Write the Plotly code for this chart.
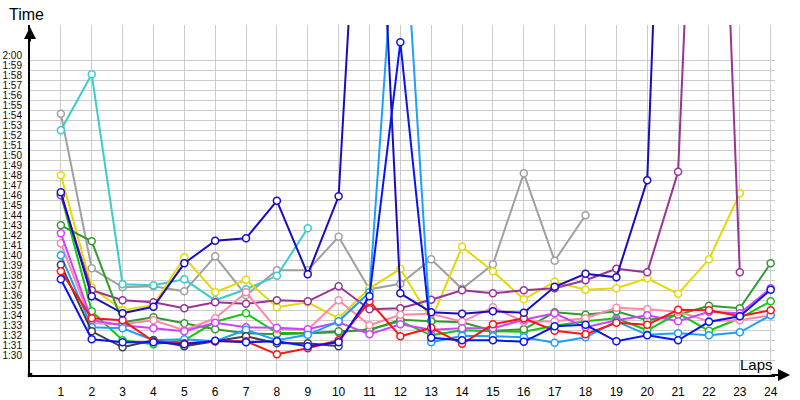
import plotly.graph_objects as go

laps = list(range(1, 25))
lap_labels = [str(n) for n in laps]
time_ticks = list(range(90, 121))
time_labels = ["1:%02d" % (s - 60) if s < 120 else "2:00" for s in time_ticks]

N = None
blue = [98.1, 92.1, 91.8, 91.8, 91.6, 91.95, 91.8, 91.9, 91.4, 91.8, 96.4, 121.8,
        92.25, 92.0, 92.0, 91.85, 93.4, 93.55, 91.9, 92.5, 92.0, 93.85, 94.4, 97.05]
navy = [106.8, 96.4, 94.7, 95.35, 99.7, 101.95, 102.2, 105.95, 98.6, 106.4, 160.0, 96.7,
        94.8, 94.65, 94.9, 94.75, 97.35, 98.65, 98.3, 108.0, 190.0, N, N, N]
light_blue = [100.5, 93.3, 93.2, 92.0, 92.1, 91.9, 93.05, 92.0, 92.55, 93.9, 96.8, 141.0,
              91.8, 92.45, 92.4, 92.3, 91.75, 92.3, 93.9, 92.55, 92.7, 92.5, 92.8, 94.5]
cyan = [113.0, 118.6, 97.6, 97.5, 98.1, 96.0, 97.1, 98.45, 103.2] + [N] * 15
gray = [114.66, 99.2, 97.3, 97.4, 96.9, 100.4, 96.5, 99.0, 99.0, 102.35, 97.1, 97.65,
        100.1, 97.15, 99.6, 108.7, 99.95, 104.5] + [N] * 6
yellow = [108.5, 97.3, 95.0, 95.5, 100.3, 96.8, 98.05, 95.3, 95.8, 94.2, 97.2, 99.15,
          94.05, 101.35, 98.9, 96.1, 97.85, 97.05, 97.2, 98.2, 96.65, 100.1, 106.7, N]
purple = [106.5, 97.0, 96.0, 95.8, 95.2, 95.8, 95.65, 96.0, 95.9, 97.4, 95.1, 95.2,
          96.05, 97.0, 96.7, 97.0, 97.2, 98.0, 99.15, 98.8, 108.85, 180.0, 98.8, N]
dark_green = [103.5, 101.9, 93.8, 94.3, 93.7, 93.1, 92.7, 92.6, 92.7, 92.9, 93.0, 94.05,
              93.9, 93.8, 92.95, 93.1, 94.8, 94.55, 94.9, 94.0, 94.55, 95.45, 95.2, 99.7]
green = [106.6, 94.9, 92.0, 91.6, 92.0, 93.85, 94.7, 92.75, 92.7, 92.8, 93.1, 93.9,
         92.5, 93.0, 92.9, 92.85, 93.45, 93.9, 94.2, 93.0, 94.7, 92.95, 94.2, 95.9]
magenta = [102.7, 94.0, 93.5, 93.2, 92.9, 93.75, 93.3, 93.25, 93.1, 93.8, 92.6, 93.6,
           93.05, 93.2, 93.2, 94.05, 94.7, 93.3, 94.0, 94.5, 93.9, 94.85, 94.7, 97.2]
pink = [101.7, 93.7, 93.6, 94.0, 93.0, 94.2, 96.8, 93.1, 93.05, 96.0, 93.5, 94.55,
        94.65, 93.85, 95.3, 93.85, 93.9, 94.2, 95.25, 95.1, 94.85, 93.9, 94.0, 94.5]
red = [98.9, 94.2, 94.0, 91.9, 91.7, 91.9, 91.9, 90.6, 91.2, 92.0, 95.9, 92.4,
       93.25, 91.65, 93.6, 94.2, 92.95, 92.6, 93.75, 93.55, 95.05, 95.0, 94.4, 95.0]
dark_gray = [99.56, 92.9, 91.3, 92.0, 91.4, 91.9, 92.4, 91.7, 91.7, 91.4] + [N] * 14

series = [
    ("gray", gray, "#A0A0A0"),
    ("cyan", cyan, "#3CCCCC"),
    ("yellow", yellow, "#E2DA00"),
    ("green", green, "#11C811"),
    ("purple", purple, "#993399"),
    ("dark green", dark_green, "#339933"),
    ("pink", pink, "#FF88AA"),
    ("magenta", magenta, "#CC44FF"),
    ("light blue", light_blue, "#1E9EFF"),
    ("dark gray", dark_gray, "#404040"),
    ("red", red, "#FF1414"),
    ("navy", navy, "#1A0CBE"),
    ("blue", blue, "#0A14F0"),
]

fig = go.Figure()
for name, vals, col in series:
    fig.add_trace(go.Scatter(
        x=laps, y=vals, name=name, mode="lines+markers",
        line=dict(color=col, width=2),
        marker=dict(symbol="circle", size=7, color="white", line=dict(color=col, width=1.5)),
        cliponaxis=True, connectgaps=False,
    ))

fig.update_layout(
    width=800, height=400,
    margin=dict(l=30, r=25, t=25, b=25, autoexpand=False),
    plot_bgcolor="white", paper_bgcolor="white",
    showlegend=False,
    font=dict(family="Liberation Sans", color="#000000"),
    xaxis=dict(
        range=[0, 24.14], tickvals=laps, ticktext=lap_labels,
        showgrid=True, gridcolor="#CCCCCC", gridwidth=1,
        showline=True, linecolor="#000000", linewidth=2,
        zeroline=False, ticks="", tickfont=dict(size=12, color="#000000"),
        automargin=False, ticklabelstandoff=5,
    ),
    yaxis=dict(
        range=[88.53, 123.53], tickvals=time_ticks, ticktext=time_labels,
        showgrid=True, gridcolor="#CCCCCC", gridwidth=1,
        showline=True, linecolor="#000000", linewidth=2,
        zeroline=False, ticks="", tickfont=dict(size=10, color="#1a0800"),
        ticklabelshift=-5, ticklabelstandoff=4, automargin=False,
    ),
    shapes=[
        dict(type="rect", xref="paper", yref="paper", x0=-0.003, x1=0.003,
             y0=-0.006, y1=0.006, fillcolor="#000000", line=dict(width=0)),
    ],
    annotations=[
        dict(text="Time", xref="paper", yref="paper", x=-0.031, y=1.0286,
             xanchor="left", yanchor="middle", showarrow=False,
             font=dict(size=16, color="#000000")),
        dict(text="Laps", xref="paper", yref="paper", x=1.0, y=0.031,
             xanchor="right", yanchor="middle", showarrow=False,
             font=dict(size=15, color="#000000")),
        dict(text="", xref="paper", yref="paper", x=0, y=0.994, ax=0, ay=16,
             showarrow=True, arrowhead=2, arrowsize=1.2, arrowwidth=2, arrowcolor="#000000"),
        dict(text="", xref="paper", yref="paper", x=1.0201, y=0, ax=-20, ay=0,
             showarrow=True, arrowhead=2, arrowsize=1.2, arrowwidth=2, arrowcolor="#000000"),
    ],
)

fig.write_html("out.html")
